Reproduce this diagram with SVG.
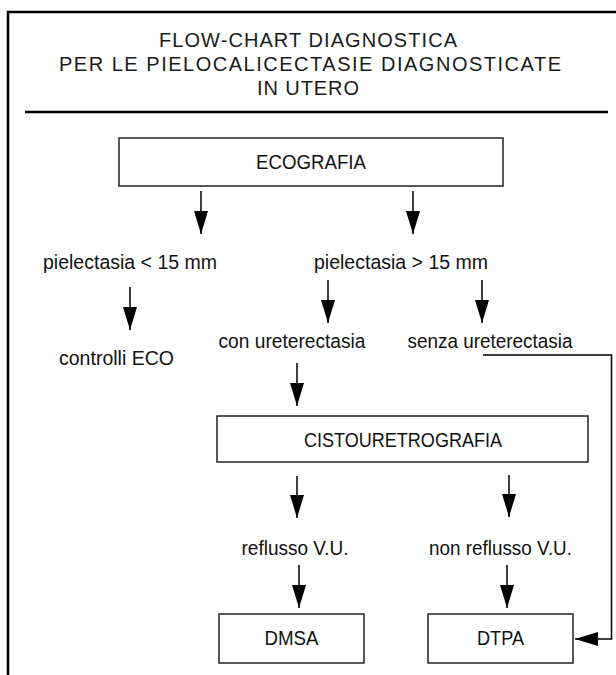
<svg xmlns="http://www.w3.org/2000/svg" width="616" height="675" viewBox="0 0 616 675">
<defs>
<style>
.t{font-family:"Liberation Sans",Arial,sans-serif;fill:#111;text-anchor:middle}
.title{font-size:20px;fill:#1a1a1a}
.lbl{font-size:20.5px}
.box{font-size:20px}
.frame{stroke:#000;stroke-width:2.5;fill:none}
.node{fill:#fff;stroke:#222;stroke-width:1.5}
.conn{stroke:#000;stroke-width:1.5;fill:none}
</style>
<marker id="ah" markerUnits="userSpaceOnUse" markerWidth="24" markerHeight="14" refX="23" refY="7" orient="auto">
<path d="M0,0 L23,7 L0,14 z" fill="#000"/>
</marker>
</defs>
<rect width="616" height="675" fill="#fff"/>
<g id="frame">
<path class="frame" d="M8,675 V12 H616"/>
<line class="frame" x1="25" y1="112" x2="608" y2="112"/>
</g>
<g id="title">
<text class="t title" x="308" y="47" textLength="298" lengthAdjust="spacing">FLOW-CHART DIAGNOSTICA</text>
<text class="t title" x="310" y="71" textLength="502" lengthAdjust="spacing">PER LE PIELOCALICECTASIE DIAGNOSTICATE</text>
<text class="t title" x="308" y="95" textLength="102" lengthAdjust="spacing">IN UTERO</text>
</g>
<g id="ecografia">
<rect class="node" x="119" y="138" width="384" height="48"/>
<text class="t box" x="311" y="169" textLength="110" lengthAdjust="spacingAndGlyphs">ECOGRAFIA</text>
</g>
<g id="pielectasia-lt">
<text class="t lbl" x="130" y="269" textLength="174" lengthAdjust="spacingAndGlyphs">pielectasia &lt; 15 mm</text>
</g>
<g id="pielectasia-gt">
<text class="t lbl" x="401" y="269" textLength="174" lengthAdjust="spacingAndGlyphs">pielectasia &gt; 15 mm</text>
</g>
<g id="controlli">
<text class="t lbl" x="116.5" y="365" textLength="115" lengthAdjust="spacingAndGlyphs">controlli ECO</text>
</g>
<g id="con-ureterectasia">
<text class="t lbl" x="292" y="348" textLength="147" lengthAdjust="spacingAndGlyphs">con ureterectasia</text>
</g>
<g id="senza-ureterectasia">
<text class="t lbl" x="490" y="348" textLength="165" lengthAdjust="spacingAndGlyphs">senza ureterectasia</text>
</g>
<g id="cistouretrografia">
<rect class="node" x="217" y="416" width="371" height="46"/>
<text class="t box" x="403" y="447" textLength="198" lengthAdjust="spacingAndGlyphs">CISTOURETROGRAFIA</text>
</g>
<g id="reflusso">
<text class="t lbl" x="295" y="555" textLength="107" lengthAdjust="spacingAndGlyphs">reflusso V.U.</text>
</g>
<g id="non-reflusso">
<text class="t lbl" x="500.5" y="555" textLength="143" lengthAdjust="spacingAndGlyphs">non reflusso V.U.</text>
</g>
<g id="dmsa">
<rect class="node" x="219" y="614" width="145" height="49"/>
<text class="t box" x="291.5" y="645" textLength="54" lengthAdjust="spacingAndGlyphs">DMSA</text>
</g>
<g id="dtpa">
<rect class="node" x="428" y="614" width="145" height="49"/>
<text class="t box" x="500.5" y="645" textLength="47" lengthAdjust="spacingAndGlyphs">DTPA</text>
</g>
<g id="connectors">
<line class="conn" x1="201" y1="191" x2="201" y2="234" marker-end="url(#ah)"/>
<line class="conn" x1="413" y1="191" x2="413" y2="234" marker-end="url(#ah)"/>
<line class="conn" x1="130" y1="287" x2="130" y2="330" marker-end="url(#ah)"/>
<line class="conn" x1="328" y1="280" x2="328" y2="323" marker-end="url(#ah)"/>
<line class="conn" x1="482" y1="280" x2="482" y2="323" marker-end="url(#ah)"/>
<line class="conn" x1="297" y1="363" x2="297" y2="406" marker-end="url(#ah)"/>
<line class="conn" x1="297" y1="476" x2="297" y2="518" marker-end="url(#ah)"/>
<line class="conn" x1="509" y1="475" x2="509" y2="517" marker-end="url(#ah)"/>
<line class="conn" x1="299" y1="565" x2="299" y2="608" marker-end="url(#ah)"/>
<line class="conn" x1="507" y1="565" x2="507" y2="608" marker-end="url(#ah)"/>
<path class="conn" d="M483,355 H611.5 V639 H575" marker-end="url(#ah)"/>
</g>
</svg>
